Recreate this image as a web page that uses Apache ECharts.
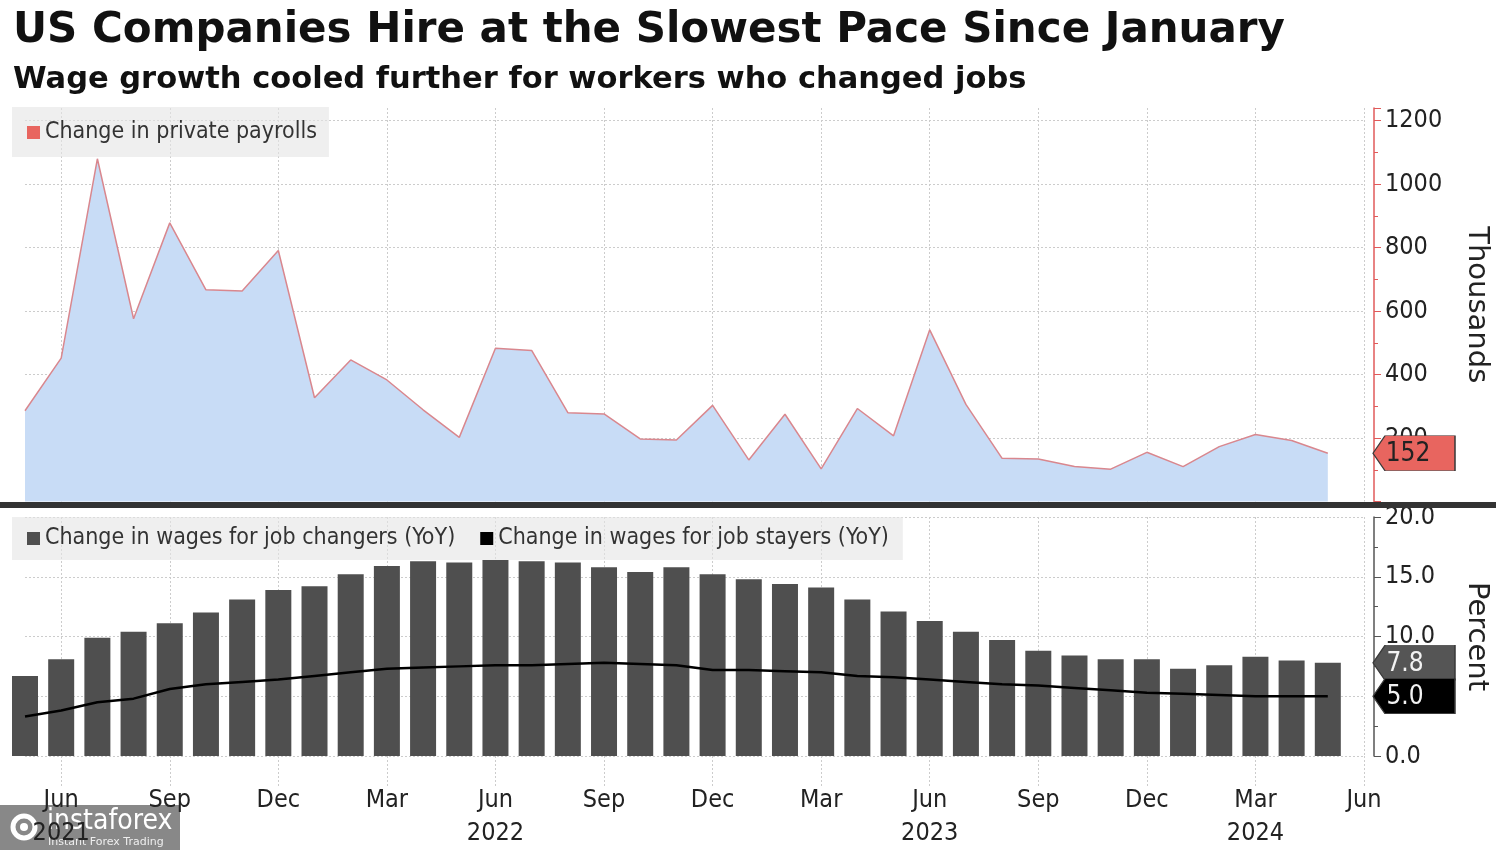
<!DOCTYPE html>
<html>
<head>
<meta charset="utf-8">
<title>US Companies Hire at the Slowest Pace Since January</title>
<script src="https://cdn.jsdelivr.net/npm/echarts@6/dist/echarts.min.js"></script>
<style>
  html, body { margin: 0; padding: 0; background: #fff; }
  #main { width: 1500px; height: 850px; }
</style>
</head>
<body>
<div id="main"></div>
<script>
// monthly categories, May 2021 .. Jun 2024 (last one has no data, it only carries the Jun tick)
const months = [
  'May 2021', 'Jun 2021', 'Jul 2021', 'Aug 2021', 'Sep 2021', 'Oct 2021', 'Nov 2021', 'Dec 2021',
  'Jan 2022', 'Feb 2022', 'Mar 2022', 'Apr 2022', 'May 2022', 'Jun 2022', 'Jul 2022', 'Aug 2022',
  'Sep 2022', 'Oct 2022', 'Nov 2022', 'Dec 2022',
  'Jan 2023', 'Feb 2023', 'Mar 2023', 'Apr 2023', 'May 2023', 'Jun 2023', 'Jul 2023', 'Aug 2023',
  'Sep 2023', 'Oct 2023', 'Nov 2023', 'Dec 2023',
  'Jan 2024', 'Feb 2024', 'Mar 2024', 'Apr 2024', 'May 2024', 'Jun 2024'
];

// change in private payrolls, thousands
const payrolls = [
  286, 452, 1080, 576, 878, 667, 663, 791,
  327, 446, 383, 289, 202, 483, 476, 280, 276, 197, 194, 303,
  131, 275, 103, 293, 207, 541, 306, 136, 134, 110, 102, 155,
  110, 173, 211, 192, 152
];

// change in wages for job changers, YoY %
const jobChangers = [
  6.7, 8.1, 9.9, 10.4, 11.1, 12.0, 13.1, 13.9,
  14.2, 15.2, 15.9, 16.3, 16.2, 16.4, 16.3, 16.2, 15.8, 15.4, 15.8, 15.2,
  14.8, 14.4, 14.1, 13.1, 12.1, 11.3, 10.4, 9.7, 8.8, 8.4, 8.1, 8.1,
  7.3, 7.6, 8.3, 8.0, 7.8
];

// change in wages for job stayers, YoY %
const jobStayers = [
  3.3, 3.8, 4.5, 4.8, 5.6, 6.0, 6.2, 6.4,
  6.7, 7.0, 7.3, 7.4, 7.5, 7.6, 7.6, 7.7, 7.8, 7.7, 7.6, 7.2,
  7.2, 7.1, 7.0, 6.7, 6.6, 6.4, 6.2, 6.0, 5.9, 5.7, 5.5, 5.3,
  5.2, 5.1, 5.0, 5.0, 5.0
];

const tickLabels = {
  'Jun 2021': 'Jun\n2021', 'Sep 2021': 'Sep', 'Dec 2021': 'Dec',
  'Mar 2022': 'Mar', 'Jun 2022': 'Jun\n2022', 'Sep 2022': 'Sep', 'Dec 2022': 'Dec',
  'Mar 2023': 'Mar', 'Jun 2023': 'Jun\n2023', 'Sep 2023': 'Sep', 'Dec 2023': 'Dec',
  'Mar 2024': 'Mar\n2024', 'Jun 2024': 'Jun'
};

const payrollTicks = [0, 200, 400, 600, 800, 1000, 1200];
const percentTicks = [0, 5, 10, 15, 20];

const condensed = "'DejaVu Sans Condensed', 'DejaVu Sans', sans-serif";
const quarterly = (i) => i % 3 === 1;
const dotted = { color: '#cccccc', type: [2, 2], width: 1 };
const lastMonth = months[months.length - 1];

// left pointing value tag drawn at the right axis
function tag(value, text, fill, textColor, dx) {
  return {
    symbol: 'path://M0,17.5L12,0L82,0L82,35L12,35Z',
    symbolSize: [82, 35],
    symbolOffset: [50, 0],
    silent: true,
    data: [{ coord: [lastMonth, value], value: value }],
    itemStyle: { color: fill, borderColor: '#3a3a3a', borderWidth: 1 },
    label: {
      show: true, position: 'inside', offset: [dx, 1],
      color: textColor, fontFamily: condensed, fontSize: 26,
      formatter: () => text
    }
  };
}

const chart = echarts.init(document.getElementById('main'));

const option = {
  backgroundColor: '#ffffff',
  animation: false,
  title: [
    {
      text: 'US Companies Hire at the Slowest Pace Since January',
      left: 8, top: 5,
      textStyle: { fontFamily: 'DejaVu Sans', fontWeight: 'bold', fontSize: 42, color: '#111' }
    },
    {
      text: 'Wage growth cooled further for workers who changed jobs',
      left: 8, top: 60,
      textStyle: { fontFamily: 'DejaVu Sans', fontWeight: 'bold', fontSize: 30.5, color: '#111' }
    }
  ],
  legend: [
    {
      left: 12, top: 107,
      padding: [14, 12, 13, 15],
      backgroundColor: 'rgba(228,228,228,0.6)',
      itemWidth: 13, itemHeight: 13, icon: 'rect',
      textStyle: { fontFamily: condensed, fontSize: 23, color: '#333' },
      data: [{ name: 'Change in private payrolls', itemStyle: { color: '#e8655f' } }]
    },
    {
      left: 12, top: 517,
      padding: [10, 14, 10, 15],
      backgroundColor: 'rgba(228,228,228,0.6)',
      itemWidth: 13, itemHeight: 13, itemGap: 25, icon: 'rect',
      textStyle: { fontFamily: condensed, fontSize: 23, color: '#333' },
      data: [
        { name: 'Change in wages for job changers (YoY)', itemStyle: { color: '#4f4f4f' } },
        { name: 'Change in wages for job stayers (YoY)', itemStyle: { color: '#000000' } }
      ]
    }
  ],
  grid: [
    { left: 25, right: 136, top: 108, bottom: 348.5 },
    { left: 25, right: 136, top: 517, bottom: 91.5 }
  ],
  xAxis: [
    {
      gridIndex: 0, type: 'category', data: months, boundaryGap: false,
      axisLine: { show: false }, axisTick: { show: false }, axisLabel: { show: false },
      splitLine: { show: true, interval: quarterly, lineStyle: dotted }
    },
    {
      gridIndex: 1, type: 'category', data: months, boundaryGap: false,
      axisLine: { show: false },
      axisTick: { show: true, interval: quarterly, length: 30, lineStyle: dotted },
      splitLine: { show: true, interval: quarterly, lineStyle: dotted },
      axisLabel: {
        interval: quarterly, margin: 28, hideOverlap: false,
        fontFamily: condensed, fontSize: 25, color: '#222', lineHeight: 33,
        formatter: (v) => tickLabels[v] || ''
      }
    }
  ],
  yAxis: [
    {
      gridIndex: 0, type: 'value', position: 'right', offset: 10,
      min: payrollTicks[0], max: 1240, interval: payrollTicks[1] - payrollTicks[0],
      name: 'Thousands', nameLocation: 'middle', nameRotate: -90, nameGap: 88,
      nameTextStyle: { fontFamily: 'DejaVu Sans', fontSize: 29, color: '#222' },
      axisLine: { show: true, lineStyle: { color: '#e05a5a', width: 1.5 } },
      axisTick: { show: true, length: 7, lineStyle: { color: '#e05a5a' } },
      minorTick: { show: true, splitNumber: 2, length: 4, lineStyle: { color: '#e05a5a' } },
      axisLabel: {
        margin: 11, fontFamily: condensed, fontSize: 25, color: '#222',
        showMinLabel: false, showMaxLabel: false,
        formatter: (v) => payrollTicks.includes(v) ? String(v) : ''
      },
      splitLine: { show: true, showMinLine: false, showMaxLine: false, lineStyle: dotted }
    },
    {
      gridIndex: 1, type: 'value', position: 'right', offset: 10,
      min: percentTicks[0], max: percentTicks[percentTicks.length - 1], interval: percentTicks[1] - percentTicks[0],
      name: 'Percent', nameLocation: 'middle', nameRotate: -90, nameGap: 88,
      nameTextStyle: { fontFamily: 'DejaVu Sans', fontSize: 29, color: '#222', padding: [0, 0, 0, 0] },
      axisLine: { show: true, lineStyle: { color: '#555', width: 1.5 } },
      axisTick: { show: true, length: 7, lineStyle: { color: '#555' } },
      minorTick: { show: true, splitNumber: 2, length: 4, lineStyle: { color: '#555' } },
      axisLabel: {
        margin: 11, fontFamily: condensed, fontSize: 25, color: '#222',
        formatter: (v) => v.toFixed(1)
      },
      splitLine: { show: true, lineStyle: dotted }
    }
  ],
  series: [
    {
      name: 'Change in private payrolls', type: 'line',
      xAxisIndex: 0, yAxisIndex: 0, data: payrolls,
      symbol: 'none',
      itemStyle: { color: '#e8655f' },
      lineStyle: { color: '#d9878e', width: 1.5 },
      areaStyle: { color: '#c8dcf6', opacity: 1 },
      markPoint: tag(payrolls[payrolls.length - 1], String(payrolls[payrolls.length - 1]), '#e8655f', '#222', -6)
    },
    {
      name: 'Change in wages for job changers (YoY)', type: 'bar',
      xAxisIndex: 1, yAxisIndex: 1, data: jobChangers,
      barWidth: 26, clip: false,
      itemStyle: { color: '#4f4f4f' },
      markPoint: tag(jobChangers[jobChangers.length - 1], jobChangers[jobChangers.length - 1].toFixed(1), '#555555', '#f2f2f2', -9)
    },
    {
      name: 'Change in wages for job stayers (YoY)', type: 'line',
      xAxisIndex: 1, yAxisIndex: 1, data: jobStayers,
      symbol: 'none', z: 3,
      itemStyle: { color: '#000' },
      lineStyle: { color: '#000', width: 2.5 },
      markPoint: tag(jobStayers[jobStayers.length - 1], jobStayers[jobStayers.length - 1].toFixed(1), '#000000', '#f2f2f2', -9)
    }
  ],
  graphic: [
    // panel separator
    { type: 'rect', left: 0, top: 502, z: 50, shape: { width: 1496, height: 6 }, style: { fill: '#333' } },
    // watermark
    {
      type: 'group', left: 0, top: 805, z: 60,
      children: [
        { type: 'rect', shape: { x: 0, y: 0, width: 180, height: 45 }, style: { fill: 'rgba(110,110,110,0.82)' } },
        { type: 'circle', shape: { cx: 24, cy: 22, r: 11 }, style: { fill: 'none', stroke: '#fff', lineWidth: 5 } },
        { type: 'circle', shape: { cx: 24, cy: 22, r: 4 }, style: { fill: '#fff' } },
        { type: 'text', x: 47, y: 3, style: { text: 'instaforex', fill: '#fff', font: "28px 'DejaVu Sans Condensed'" } },
        { type: 'text', x: 48, y: 32, style: { text: 'Instant Forex Trading', fill: '#eee', font: "11px 'DejaVu Sans'" } }
      ]
    }
  ]
};

chart.setOption(option);
</script>
</body>
</html>
